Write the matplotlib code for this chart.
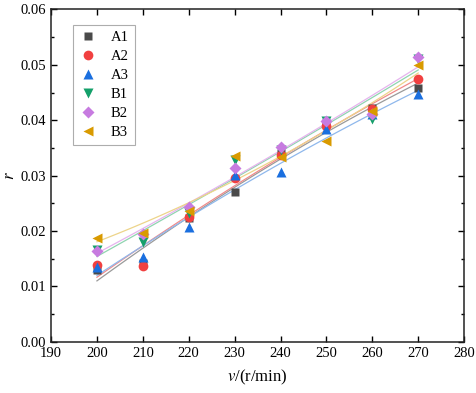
import numpy as np
import matplotlib.pyplot as plt
from matplotlib.ticker import MultipleLocator

plt.rcParams['font.family'] = ['Liberation Serif', 'DejaVu Serif']
plt.rcParams['mathtext.fontset'] = 'stix'

# speed (r/min)
speed = [200, 210, 220, 230, 240, 250, 260, 270]

A1 = [0.0130, 0.0143, 0.0223, 0.0270, 0.0341, 0.0395, 0.0422, 0.0459]
A2 = [0.0139, 0.0137, 0.0226, 0.0296, 0.0338, 0.0389, 0.0421, 0.0475]
A3 = [0.0136, 0.0154, 0.0207, 0.0302, 0.0306, 0.0384, 0.0412, 0.0448]
B1 = [0.0166, 0.0180, 0.0232, 0.0329, 0.0347, 0.0398, 0.0403, 0.0510]
B2 = [0.0164, 0.0195, 0.0244, 0.0314, 0.0352, 0.0399, 0.0412, 0.0514]
B3 = [0.0188, 0.0197, 0.0237, 0.0336, 0.0334, 0.0363, 0.0416, 0.0500]

names = ['A1', 'A2', 'A3', 'B1', 'B2', 'B3']
series = [A1, A2, A3, B1, B2, B3]
markers = ['s', 'o', '^', 'v', 'D', '<']
msizes = [6, 7, 7, 7, 6, 7]
colors = ['#4a4a4a', '#f14040', '#1a6fdf', '#14a06a', '#c77be0', '#d99a00']
line_colors = ['#9a9a9a', '#f08a8a', '#8fb8ec', '#8fd4b0', '#e6b4ee', '#edd48a']

fig = plt.figure(figsize=(4.77, 3.93), dpi=100)
ax = fig.add_axes([0.107, 0.130, 0.866, 0.846])

x = np.array(speed, dtype=float)
xf = np.linspace(200, 270, 100)
for name, ys, m, ms, c, lc in zip(names, series, markers, msizes, colors, line_colors):
    coef = np.polyfit(x, ys, 2)
    ax.plot(xf, np.polyval(coef, xf), color=lc, lw=0.9, zorder=1)
for name, ys, m, ms, c in zip(names, series, markers, msizes, colors):
    ax.plot(x, ys, ls='none', marker=m, ms=ms, color=c, mec='none',
            label=name, zorder=3)

ax.set_xlim(190, 280)
ax.set_ylim(0, 0.06)
ax.xaxis.set_major_locator(MultipleLocator(10))
ax.yaxis.set_major_locator(MultipleLocator(0.01))
ax.yaxis.set_minor_locator(MultipleLocator(0.005))
ax.yaxis.set_major_formatter(plt.FormatStrFormatter('%.2f'))
ax.tick_params(which='both', direction='in', top=True, right=True,
               labelsize=10.5, width=1)
ax.tick_params(which='major', length=4)
ax.tick_params(which='minor', length=2.5)
for s in ax.spines.values():
    s.set_linewidth(1.1)
    s.set_color('#222222')

ax.set_xlabel(r'$v$/(r/min)', fontsize=12, labelpad=6)
ax.set_ylabel(r'$r$', fontsize=12, labelpad=2)

leg = ax.legend(loc='upper left', bbox_to_anchor=(0.035, 0.975), fontsize=10.5,
                frameon=True, fancybox=False, edgecolor='#999999',
                handletextpad=0.9, labelspacing=0.4, borderpad=0.4,
                handlelength=1.3)
leg.get_frame().set_linewidth(0.8)

fig.savefig('out.png', dpi=100)
